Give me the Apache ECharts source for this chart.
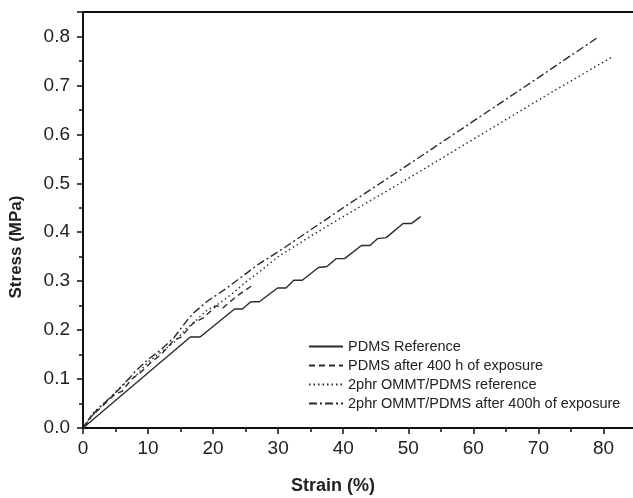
<!DOCTYPE html>
<html>
<head>
<meta charset="utf-8">
<script src="https://cdn.jsdelivr.net/npm/echarts@6/dist/echarts.min.js"></script>
<style>html,body{margin:0;padding:0;background:#fff;}#c{width:633px;height:498px;}</style>
</head>
<body>
<div id="c"></div>
<script>
var seriesNames = ['PDMS Reference', 'PDMS after 400 h of exposure', '2phr OMMT/PDMS reference', '2phr OMMT/PDMS after 400h of exposure'];
var xTicks = [0, 10, 20, 30, 40, 50, 60, 70, 80];
var yTicks = [0.0, 0.1, 0.2, 0.3, 0.4, 0.5, 0.6, 0.7, 0.8];

var pdmsRef = [[0,0],[16.5,0.186],[18,0.186],[23.3,0.243],[24.5,0.243],[25.8,0.258],[27.1,0.258],[29.9,0.286],[31.2,0.286],[32.4,0.302],[33.7,0.302],[36.2,0.328],[37.5,0.330],[38.9,0.346],[40.2,0.346],[42.8,0.373],[44.1,0.373],[45.3,0.387],[46.6,0.389],[49.2,0.418],[50.5,0.418],[51.9,0.432]];
var pdms400 = [[0,0],[1,0.02],[3,0.045],[5,0.07],[6,0.075],[7.5,0.1],[9,0.115],[10.5,0.135],[12,0.15],[14,0.18],[15,0.185],[17,0.215],[18.5,0.225],[20.5,0.25],[21.5,0.245],[23.5,0.268],[26.2,0.293]];
var ommtRef = [[0,0],[1.5,0.03],[4,0.06],[7,0.1],[8,0.105],[10,0.135],[12,0.155],[14,0.175],[16,0.205],[17,0.215],[19,0.24],[21,0.255],[23,0.275],[25,0.298],[27,0.318],[30,0.35],[35,0.392],[40,0.432],[50,0.51],[60,0.59],[70,0.67],[81.3,0.758]];
var ommt400 = [[0,0],[2,0.035],[4,0.06],[6,0.085],[8,0.115],[10,0.14],[12,0.16],[14,0.185],[16,0.22],[17,0.235],[19,0.258],[22,0.285],[25,0.315],[27,0.335],[30,0.36],[35,0.405],[40,0.45],[50,0.538],[60,0.627],[70,0.716],[79,0.797]];

var dataSets = [pdmsRef, pdms400, ommtRef, ommt400];
var dashes = ['solid', [6,4], [1.5,3], [8,3,2,3]];
var lineColor = '#2a2a2a';

function near(v, arr){ for (var i=0;i<arr.length;i++){ if (Math.abs(v-arr[i])<1e-6) return true; } return false; }

var chart = echarts.init(document.getElementById('c'), null, {renderer:'canvas'});
chart.setOption({
  animation: false,
  backgroundColor: '#fff',
  grid: { left: 83, top: 12, width: 553, height: 416, outerBoundsMode: 'none', containLabel: false, show: true, borderColor: '#111', borderWidth: 2 },
  legend: {
    orient: 'vertical', left: 308, top: 339, padding: 0, itemWidth: 34, itemHeight: 14, itemGap: 4,
    itemStyle: { opacity: 0, borderWidth: 0 },
    textStyle: { fontFamily: 'Liberation Sans, Arial', fontSize: 14.5, lineHeight: 14, color: '#222' },
    data: seriesNames.map(function(n){ return { name: n }; })
  },
  xAxis: {
    type: 'value', min: 0, max: 85, interval: 10,
    axisLine: { show: true, onZero: false, lineStyle: { color: '#111', width: 2 } },
    axisTick: { show: true, inside: false, length: 6, lineStyle: { color: '#111', width: 1.5 } },
    minorTick: { show: true, splitNumber: 2, length: 4, lineStyle: { color: '#111', width: 1.5 } },
    splitLine: { show: false },
    axisLabel: { margin: 11, fontFamily: 'Liberation Sans, Arial', fontSize: 19, color: '#222',
      formatter: function(v){ return near(v, xTicks) ? String(v) : ''; } }
  },
  yAxis: {
    type: 'value', min: 0, max: 0.85, interval: 0.1,
    axisLine: { show: true, onZero: false, lineStyle: { color: '#111', width: 2 } },
    axisTick: { show: true, inside: false, length: 6, lineStyle: { color: '#111', width: 1.5 } },
    minorTick: { show: true, splitNumber: 2, length: 4, lineStyle: { color: '#111', width: 1.5 } },
    splitLine: { show: false },
    axisLabel: { margin: 13, fontFamily: 'Liberation Sans, Arial', fontSize: 19, color: '#222',
      formatter: function(v){ return near(v, yTicks) ? v.toFixed(1) : ''; } }
  },
  graphic: [
    { type: 'text', x: 333, y: 486, style: { text: 'Strain (%)', font: 'bold 18px "Liberation Sans", Arial', fill: '#222', align: 'center', verticalAlign: 'middle' } },
    { type: 'text', x: 16, y: 247, rotation: Math.PI/2, style: { text: 'Stress (MPa)', font: 'bold 17px "Liberation Sans", Arial', fill: '#222', align: 'center', verticalAlign: 'middle' } }
  ],
  series: dataSets.map(function(d, i){
    return {
      name: seriesNames[i], type: 'line', data: d, showSymbol: false, symbol: 'none',
      itemStyle: { color: lineColor },
      lineStyle: { color: lineColor, width: 1.4, type: dashes[i] }
    };
  })
});
</script>
</body>
</html>
